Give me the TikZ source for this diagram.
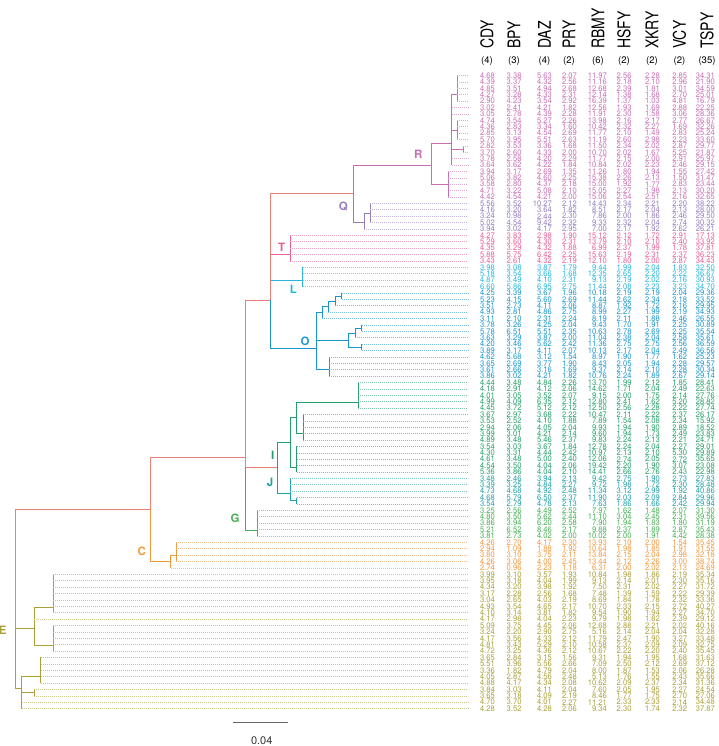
\documentclass[tikz,border=0pt]{standalone}
\usepackage{fontspec}
\setmainfont{TeX Gyre Heros}
\newfontfamily\hdrfont[FakeStretch=0.8]{TeX Gyre Heros}
\newfontfamily\valfont[FakeStretch=0.95]{TeX Gyre Heros}

\definecolor{bbred}{RGB}{235,128,118}
\definecolor{cR}{RGB}{200,110,180}
\definecolor{cQ}{RGB}{150,125,190}
\definecolor{cT}{RGB}{232,95,150}
\definecolor{cL}{RGB}{40,182,220}
\definecolor{cO}{RGB}{25,150,205}
\definecolor{cI}{RGB}{35,160,105}
\definecolor{cJ}{RGB}{30,160,165}
\definecolor{cG}{RGB}{70,175,85}
\definecolor{cC}{RGB}{242,152,60}
\definecolor{cE}{RGB}{170,160,55}

% altura da linha i
\newcommand\ry[1]{69.105+6.395*#1}
% folhas: pai, cor, linhas
\newcommand\folhas[3]{%
  \foreach \i in {#3}{
    \draw[br, #2] (#1) |- (#1 |- r\i) coordinate (t\i);
    \draw[lead, #2!60] (t\i) -- (t\i -| xend);
  }%
}
% valores: linha, cor, lista
\newcommand\drow[3]{%
  \foreach \v [count=\k] in {#3}{
    \node[val, text=#2] (v#1-\k) at (vx\k |- r#1) {\v};
  }%
}

\begin{document}
\begin{tikzpicture}[x=1pt, y=-1pt,
  br/.style={line width=0.7pt},
  lead/.style={line width=0.6pt, dash pattern=on 0.6pt off 1.4pt},
  val/.style={font=\valfont\fontsize{8}{8}\selectfont, anchor=east, inner sep=0pt},
  hdr/.style={font=\hdrfont\fontsize{17.5}{17.5}\selectfont, rotate=90, anchor=west, inner sep=0pt},
  cnt/.style={font=\fontsize{9.5}{9.5}\selectfont, inner sep=0pt},
  clado/.style={font=\bfseries\fontsize{11.5}{11.5}\selectfont, inner sep=0pt}
]
\useasboundingbox (0,0) rectangle (718,746);

% linhas e colunas
\foreach \i in {1,...,100} \coordinate (r\i) at (0,{\ry{\i}});
\coordinate (xend) at (468,0);
\foreach \x [count=\k] in {495,521.7,552,577,607,631.7,660,687.3,715}
  \coordinate (vx\k) at (\x,0);

% cabecalho
\foreach \g/\n/\x in {CDY/4/487, BPY/3/514, DAZ/4/544.5, PRY/2/569, RBMY/6/598,
    HSFY/2/624, XKRY/2/652, VCY/2/679.5, TSPY/35/707}{
  \node[hdr] (h\g) at (\x,49) {\g};
  \node[cnt] (n\g) at (\x,61) {(\n)};
}

% nos internos
\coordinate (raiz) at (15.7,{\ry{68.8}});
\coordinate (nB) at (150,{\ry{68.8}});
\coordinate (nE1) at (34.3,{\ry{87.4}});
\coordinate (nE2) at (21.7,{\ry{96.9}});
\coordinate (nU) at (245.7,{\ry{60.7}});
\coordinate (nC) at (170.7,{\ry{77}});
\coordinate (nUp) at (270.7,{\ry{36.1}});
\coordinate (nIJ) at (277.7,{\ry{62.3}});
\coordinate (nG) at (257.3,{\ry{72.1}});
\coordinate (nQR) at (353.3,{\ry{19.5}});
\coordinate (nT) at (290,{\ry{29}});
\coordinate (nL) at (302.7,{\ry{33}});
\coordinate (nO) at (316,{\ry{43.7}});
\coordinate (nR) at (431.7,{\ry{15}});
\coordinate (nQ) at (364,{\ry{24}});
\coordinate (nR1) at (451.7,{\ry{11.6}});
\coordinate (nR2) at (448.3,{\ry{18}});
\coordinate (nRa) at (457.3,{\ry{4}});
\coordinate (nRb) at (457.3,{\ry{9.5}});
\coordinate (nRc) at (463.3,{\ry{12.5}});
\coordinate (nQa) at (370,{\ry{22.5}});
\coordinate (nO1) at (322.3,{\ry{38.0625}});
\coordinate (nO1a) at (328.3,{\ry{37.125}});
\coordinate (nO1b) at (335,{\ry{36.25}});
\coordinate (nO1c) at (341.7,{\ry{35.5}});
\coordinate (nO2) at (348.3,{\ry{42.375}});
\coordinate (nO2a) at (355,{\ry{41.25}});
\coordinate (nO2c) at (361.7,{\ry{40.5}});
\coordinate (nO2b) at (361.7,{\ry{43.5}});
\coordinate (nO3) at (329.3,{\ry{47}});
\coordinate (nI) at (290,{\ry{58.35}});
\coordinate (nI1) at (296.7,{\ry{54.5}});
\coordinate (nI1a) at (358,{\ry{52.1}});
\coordinate (nI1b) at (303.3,{\ry{57}});
\coordinate (nI2) at (296.7,{\ry{62.2}});
\coordinate (nJ) at (290,{\ry{66.3}});
\coordinate (nJ2) at (296.7,{\ry{67.5}});
\coordinate (nC1) at (176,{\ry{76}});
\coordinate (nE1a) at (53.3,{\ry{84.1}});
\coordinate (nE1b) at (53.3,{\ry{90.1}});
\coordinate (nE2a) at (40.7,{\ry{95}});
\coordinate (nE2b) at (34.3,{\ry{97.5}});

% ramos
\draw[br, bbred] (raiz) |- (nB);
\draw[br, bbred] (raiz) -- (raiz |- nE1);
\draw[br, cE] (raiz |- nE1) -- (nE1);
\draw[br, cE] (raiz |- nE1) |- (nE2);
\draw[br, cC] (nB) |- (nC);
\draw[br, bbred] (nB) |- (nU);
\draw[br, cG] (nU) |- (nG);
\draw[br, bbred] (nU) |- (nIJ);
\draw[br, bbred] (nU) |- (nUp);
\draw[br, cI] (nIJ) |- (nI);
\draw[br, cJ] (nIJ) |- (nJ);
\draw[br, cI] (nI) |- (nI1);
\draw[br, cI] (nI) |- (nI2);
\draw[br, cI] (nI1) |- (nI1a);
\draw[br, cI] (nI1) |- (nI1b);
\draw[br, cJ] (nJ) |- (nJ2);
\draw[br, cL] (nUp) |- (nL);
\draw[br, cO] (nUp) |- (nO);
\draw[br, cT] (nUp) |- (nT);
\draw[br, bbred] (nUp) |- (nQR);
\draw[br, cR] (nQR) |- (nR);
\draw[br, cQ] (nQR) |- (nQ);
\draw[br, cR] (nR) |- (nR1);
\draw[br, cR] (nR) |- (nR2);
\draw[br, cR] (nR1) |- (nRa);
\draw[br, cR] (nR1) |- (nRb);
\draw[br, cR] (nR1) |- (nRc);
\draw[br, cQ] (nQ) |- (nQa);
\draw[br, cO] (nO) |- (nO1);
\draw[br, cO] (nO1) |- (nO1a);
\draw[br, cO] (nO1a) |- (nO1b);
\draw[br, cO] (nO1b) |- (nO1c);
\draw[br, cO] (nO) |- (nO2);
\draw[br, cO] (nO2) |- (nO2a);
\draw[br, cO] (nO2a) |- (nO2c);
\draw[br, cO] (nO2) |- (nO2b);
\draw[br, cO] (nO) |- (nO3);
\draw[br, cC] (nC) |- (nC1);
\draw[br, cE] (nE1) |- (nE1a);
\draw[br, cE] (nE1) |- (nE1b);
\draw[br, cE] (nE2) |- (nE2a);
\draw[br, cE] (nE2) |- (nE2b);

% folhas
\folhas{nRa}{cR}{1,...,5}
\folhas{nR1}{cR}{6,7,14,15}
\folhas{nRb}{cR}{8,...,11}
\folhas{nRc}{cR}{12,13}
\folhas{nR2}{cR}{16,...,20}
\folhas{nQa}{cQ}{21,...,24}
\folhas{nQ}{cQ}{25}
\folhas{nT}{cT}{26,...,30}
\folhas{nL}{cL}{31,...,34}
\folhas{nO1c}{cO}{35,36}
\folhas{nO1b}{cO}{37}
\folhas{nO1a}{cO}{38}
\folhas{nO1}{cO}{39}
\folhas{nO2c}{cO}{40,41}
\folhas{nO2a}{cO}{42}
\folhas{nO2b}{cO}{43,44}
\folhas{nO3}{cO}{45,...,48}
\folhas{nI1a}{cI}{49,...,53}
\folhas{nI1b}{cI}{54,...,58}
\folhas{nI2}{cI}{59,...,63}
\folhas{nJ}{cJ}{64,65,66}
\folhas{nJ2}{cJ}{67,68}
\folhas{nG}{cG}{69,...,73}
\folhas{nC1}{cC}{74,...,77}
\folhas{nC}{cC}{78}
\folhas{nE1a}{cE}{79,...,85}
\folhas{nE1}{cE}{86}
\folhas{nE1b}{cE}{87,...,91}
\folhas{nE2a}{cE}{92,...,96}
\folhas{nE2b}{cE}{97,98}
\folhas{nE2}{cE}{99,100}

% rotulos dos clados
\node[clado, text=cR] (labR) at (418.3,154.3) {R};
\node[clado, text=cQ] (labQ) at (343.3,206.7) {Q};
\node[clado, text=cT] (labT) at (281.7,247.3) {T};
\node[clado, text=cL] (labL) at (293.3,289.3) {L};
\node[clado, text=cO] (labO) at (305,341.7) {O};
\node[clado, text=cI] (labI) at (272.7,455) {I};
\node[clado, text=cJ] (labJ) at (270,482.7) {J};
\node[clado, text=cG] (labG) at (235,518.3) {G};
\node[clado, text=cC] (labC) at (141.7,551.7) {C};
\node[clado, text=cE] (labE) at (2.7,630) {E};

% escala
\coordinate (sb1) at (233.3,722.7);
\coordinate (sb2) at (288.3,722.7);
\draw[line width=0.8pt, black!60] (sb1) -- (sb2);
\node[font=\fontsize{11}{11}\selectfont, text=black!80] (sbl) at (261.7,741) {0.04};

% tabela
\drow{1}{cR}{4.68,3.38,5.63,2.07,11.97,2.56,2.28,2.85,34.31}
\drow{2}{cR}{4.39,3.37,4.32,2.56,11.16,2.18,2.10,2.96,21.90}
\drow{3}{cR}{4.85,3.51,4.94,2.68,12.68,2.39,1.81,3.01,34.59}
\drow{4}{cR}{4.27,3.28,4.33,2.31,12.14,1.38,1.68,2.70,25.01}
\drow{5}{cR}{2.90,4.23,3.54,2.92,16.39,1.37,1.03,4.81,16.79}
\drow{6}{cR}{3.02,2.41,4.21,1.82,12.56,1.93,1.69,2.88,22.25}
\drow{7}{cR}{3.05,2.78,4.39,2.28,11.91,2.30,1.58,3.06,28.36}
\drow{8}{cR}{4.74,3.54,5.27,2.26,13.98,2.16,2.17,2.77,26.67}
\drow{9}{cR}{4.36,2.83,3.34,1.60,10.42,2.32,2.27,1.69,32.26}
\drow{10}{cR}{2.85,3.13,4.54,2.69,11.77,2.10,1.49,2.83,25.24}
\drow{11}{cR}{5.70,3.95,5.51,2.63,11.19,2.60,2.98,2.23,33.60}
\drow{12}{cR}{2.82,3.53,3.36,1.68,11.50,2.34,2.02,2.87,29.77}
\drow{13}{cR}{3.70,2.60,4.33,2.00,10.70,2.02,1.67,5.25,21.87}
\drow{14}{cR}{3.78,2.58,4.20,2.29,11.77,2.15,2.00,2.91,25.97}
\drow{15}{cR}{3.64,3.62,4.22,1.84,10.84,2.02,2.23,2.46,29.15}
\drow{16}{cR}{3.94,3.17,2.69,1.35,11.26,1.80,1.94,1.55,27.42}
\drow{17}{cR}{5.06,3.82,4.60,2.25,15.38,2.26,2.13,1.50,31.47}
\drow{18}{cR}{3.58,2.80,4.37,2.18,15.00,1.92,1.77,2.83,23.44}
\drow{19}{cR}{4.71,3.22,5.08,2.10,15.05,2.27,1.98,2.13,30.20}
\drow{20}{cR}{4.42,4.54,4.21,2.00,15.06,2.54,2.51,2.16,32.65}
\drow{21}{cQ}{5.56,3.52,10.27,2.12,14.43,2.34,2.21,2.20,38.22}
\drow{22}{cQ}{4.16,3.20,3.64,1.82,8.51,2.17,2.04,2.13,28.00}
\drow{23}{cQ}{3.24,0.98,2.44,2.30,7.86,2.00,1.86,2.46,29.50}
\drow{24}{cQ}{5.02,4.54,9.42,2.32,9.33,2.32,2.04,2.74,30.32}
\drow{25}{cQ}{3.94,3.02,4.17,2.95,7.00,2.17,1.92,2.62,26.21}
\drow{26}{cT}{4.27,3.83,2.98,1.90,15.12,2.12,1.72,2.91,17.13}
\drow{27}{cT}{5.29,3.60,4.30,2.31,13.79,2.10,2.10,2.40,33.92}
\drow{28}{cT}{4.35,3.29,4.32,1.88,6.99,2.37,1.99,1.78,37.81}
\drow{29}{cT}{5.88,5.75,6.42,2.25,15.63,2.19,2.31,2.37,36.23}
\drow{30}{cT}{3.43,2.61,4.32,2.19,12.10,1.80,2.00,2.87,34.43}
\drow{31}{cL}{3.98,3.08,3.87,1.79,9.44,1.99,2.04,1.83,32.50}
\drow{32}{cL}{5.18,3.54,3.66,1.68,12.35,2.65,2.20,2.22,36.67}
\drow{33}{cL}{4.87,3.49,4.10,2.31,9.13,2.19,2.02,2.16,30.93}
\drow{34}{cL}{6.60,5.86,6.95,2.75,11.44,2.08,2.23,3.23,34.70}
\drow{35}{cO}{4.25,3.39,3.67,1.96,10.18,2.19,2.19,2.04,29.36}
\drow{36}{cO}{5.23,4.15,5.60,2.69,11.44,2.62,2.34,2.18,33.52}
\drow{37}{cO}{3.51,2.73,4.11,2.06,8.87,1.92,1.72,2.16,29.95}
\drow{38}{cO}{4.93,2.81,4.86,2.75,8.99,2.27,1.99,2.19,34.93}
\drow{39}{cO}{3.11,2.10,2.31,2.24,8.19,2.11,1.88,2.46,26.55}
\drow{40}{cO}{3.78,3.26,4.25,2.04,9.43,1.70,1.91,2.25,30.89}
\drow{41}{cO}{5.78,6.51,5.51,2.35,10.63,2.78,2.69,2.25,35.54}
\drow{42}{cO}{3.63,3.29,3.87,2.00,11.04,2.38,2.04,2.58,35.61}
\drow{43}{cO}{4.20,3.46,5.62,2.42,11.36,2.75,2.75,2.56,36.59}
\drow{44}{cO}{3.89,3.17,4.11,2.07,10.13,2.17,2.04,2.49,36.56}
\drow{45}{cO}{4.62,5.68,3.12,1.54,8.97,1.90,1.77,1.62,25.23}
\drow{46}{cO}{3.65,2.69,3.77,1.90,8.43,2.05,1.94,2.28,29.57}
\drow{47}{cO}{3.61,2.66,3.16,1.69,9.37,2.14,2.10,2.28,30.34}
\drow{48}{cO}{3.86,3.02,4.21,1.82,10.76,2.24,1.89,2.67,29.14}
\drow{49}{cI}{4.44,3.48,4.84,2.26,13.70,1.99,2.12,1.85,28.41}
\drow{50}{cI}{4.18,2.91,4.12,2.06,14.62,1.71,2.04,2.49,22.63}
\drow{51}{cI}{4.01,3.05,3.52,2.07,9.15,2.00,1.75,2.14,27.76}
\drow{52}{cI}{4.99,4.09,6.35,2.12,12.80,2.41,1.62,5.20,28.82}
\drow{53}{cI}{4.45,3.72,5.12,2.12,12.50,2.56,2.28,2.22,27.74}
\drow{54}{cI}{3.67,2.97,3.68,2.22,10.47,2.11,2.22,2.37,26.17}
\drow{55}{cI}{3.53,2.52,4.10,1.88,7.89,1.54,2.08,2.34,15.92}
\drow{56}{cI}{2.94,2.06,4.05,2.04,9.93,1.94,1.90,2.89,18.52}
\drow{57}{cI}{3.99,3.01,4.21,2.14,9.60,1.94,1.73,2.49,23.83}
\drow{58}{cI}{4.89,3.48,5.46,2.37,9.83,2.24,2.13,2.21,24.71}
\drow{59}{cI}{3.54,3.03,3.67,1.84,12.78,2.24,2.04,2.27,29.01}
\drow{60}{cI}{4.30,3.31,4.44,2.42,10.97,2.13,2.10,5.30,29.89}
\drow{61}{cI}{4.61,3.48,5.00,2.40,12.06,2.74,2.05,2.72,35.65}
\drow{62}{cI}{4.54,3.50,4.04,2.06,19.42,2.20,1.90,3.07,23.08}
\drow{63}{cI}{5.36,3.86,4.04,2.10,14.41,2.66,2.76,2.43,22.98}
\drow{64}{cJ}{3.48,2.46,3.94,2.13,9.42,2.75,1.90,2.73,27.83}
\drow{65}{cJ}{3.39,3.25,4.84,2.27,9.72,1.98,1.72,2.30,28.48}
\drow{66}{cJ}{4.73,4.68,4.92,2.48,11.34,3.12,2.99,1.92,40.86}
\drow{67}{cJ}{4.68,5.79,6.50,2.37,11.90,2.03,2.09,2.84,29.96}
\drow{68}{cJ}{3.54,2.79,4.78,2.13,7.63,1.86,1.66,2.42,29.94}
\drow{69}{cG}{3.25,2.56,4.49,2.52,7.97,1.62,1.48,2.07,31.30}
\drow{70}{cG}{4.80,3.50,5.62,2.44,11.10,3.04,2.45,2.31,39.56}
\drow{71}{cG}{3.86,3.94,6.20,2.58,7.90,1.94,1.83,1.80,31.19}
\drow{72}{cG}{5.21,6.52,8.46,2.17,9.88,2.37,1.89,2.87,35.43}
\drow{73}{cG}{3.81,2.73,4.02,2.00,10.02,2.00,1.91,4.42,28.38}
\drow{74}{cC}{4.26,2.70,4.17,2.30,13.93,2.10,2.00,1.54,35.45}
\drow{75}{cC}{2.94,1.09,1.88,1.92,10.64,1.98,1.85,1.91,31.55}
\drow{76}{cC}{3.80,3.10,3.75,2.11,13.84,2.15,2.04,2.98,32.18}
\drow{77}{cC}{4.26,3.06,4.00,2.45,13.44,2.12,2.26,3.00,38.74}
\drow{78}{cC}{2.74,0.96,2.23,1.18,6.31,2.00,2.02,2.13,24.69}
\drow{79}{cE}{3.99,3.10,3.57,1.93,10.84,1.98,1.86,2.19,35.34}
\drow{80}{cE}{3.95,3.18,4.04,1.99,9.13,2.14,2.01,2.30,35.16}
\drow{81}{cE}{4.34,3.20,3.98,1.92,7.50,2.31,2.02,2.27,31.72}
\drow{82}{cE}{3.17,2.28,2.56,1.68,7.48,1.39,1.59,2.22,29.39}
\drow{83}{cE}{3.04,2.65,4.03,2.19,8.69,1.84,1.78,2.32,33.36}
\drow{84}{cE}{4.93,3.54,4.65,2.17,10.70,2.33,2.15,2.72,40.27}
\drow{85}{cE}{4.10,3.14,3.81,1.82,9.54,1.90,1.94,2.27,34.70}
\drow{86}{cE}{4.17,2.98,4.04,2.23,9.79,1.98,1.82,2.39,29.12}
\drow{87}{cE}{5.09,3.75,4.45,2.06,12.68,2.88,2.21,2.02,40.16}
\drow{88}{cE}{3.24,2.20,2.90,2.75,5.16,2.14,2.04,2.04,32.28}
\drow{89}{cE}{4.17,3.56,4.33,2.12,11.79,2.47,1.90,3.27,33.48}
\drow{90}{cE}{4.81,3.43,5.29,2.10,10.58,2.37,2.09,2.09,32.75}
\drow{91}{cE}{4.72,3.25,4.36,2.12,10.67,2.22,2.20,2.40,35.45}
\drow{92}{cE}{3.65,2.84,3.15,1.56,9.31,1.94,1.95,1.68,31.63}
\drow{93}{cE}{5.51,3.96,5.56,2.66,7.09,2.50,2.12,2.69,37.12}
\drow{94}{cE}{3.36,1.82,4.79,2.04,8.00,1.87,1.53,2.06,26.28}
\drow{95}{cE}{4.05,2.87,4.56,2.48,5.13,1.76,1.55,2.43,35.66}
\drow{96}{cE}{4.88,4.17,4.34,2.08,10.62,2.09,2.37,2.34,31.36}
\drow{97}{cE}{3.84,3.03,4.11,2.04,7.60,2.05,1.95,2.27,24.54}
\drow{98}{cE}{3.65,3.18,4.09,2.19,8.46,1.77,1.75,2.70,27.06}
\drow{99}{cE}{4.70,3.70,4.01,2.27,11.21,2.33,2.33,2.14,34.48}
\drow{100}{cE}{4.28,3.52,4.28,2.06,9.34,2.30,1.74,2.32,37.87}
\end{tikzpicture}
\end{document}
